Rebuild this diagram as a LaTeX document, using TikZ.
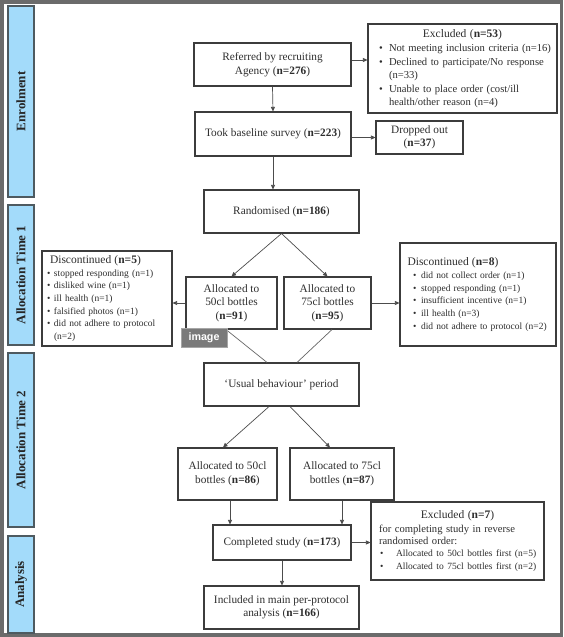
\documentclass[tikz,border=0pt]{standalone}
\usepackage{fontspec}
\setmainfont{Liberation Serif}
\newfontfamily\badgefont{Liberation Sans}
\usetikzlibrary{arrows.meta,calc}
\definecolor{frame}{HTML}{6B6B6B}
\definecolor{lblue}{HTML}{A3DBFA}
\definecolor{lborder}{HTML}{4E5A60}
\definecolor{boxline}{HTML}{3C3C3C}
\definecolor{txt}{HTML}{2E2E2E}
\newcommand{\bl}[1]{\makebox[#1][l]{\textbullet}}
\newcommand{\hd}[1]{\makebox[\hsize][c]{\fontsize{11.5}{13}\selectfont #1}}
\tikzset{
  mbox/.style={draw=boxline, line width=1.1pt, fill=white, align=center, inner sep=0pt,
    font=\fontsize{11.3}{13.5}\selectfont, text=txt},
  lbox/.style={draw=boxline, line width=1.1pt, fill=white, align=left, inner sep=0pt, text=txt},
  lane/.style={draw=lborder, line width=1.4pt, fill=lblue, inner sep=0pt, rotate=90,
    minimum height=26pt, font=\fontsize{13}{15}\selectfont\bfseries, text=black!85},
  arr/.style={draw=black!70, line width=0.7pt, -{Triangle[length=4.5pt,width=4pt]}},
  ln/.style={draw=black!60, line width=0.7pt},
}
\begin{document}
\begin{tikzpicture}[x=1pt,y=-1pt]
\useasboundingbox (0,0) rectangle (563,637);
\fill[frame] (0,0) rectangle (563,637);
\fill[white] (4,4) rectangle (560,633);

% lanes
\node[lane, minimum width=191pt] (enrol) at (21,101.5) {Enrolment};
\node[lane, minimum width=140pt] (at1) at (21,275) {Allocation Time 1};
\node[lane, minimum width=174pt] (at2) at (21,440) {Allocation Time 2};
\node[lane, minimum width=97pt] (anal) at (21,584.5) {Analysis};

% main boxes
\node[mbox, minimum width=157pt, minimum height=43pt] (ref) at (272.5,64.5) {Referred by recruiting\\Agency (\textbf{n=276})};
\node[mbox, minimum width=156pt, minimum height=44pt] (took) at (273,134) {Took baseline survey (\textbf{n=223})};
\node[mbox, minimum width=87pt, minimum height=33pt] (drop) at (419.5,137.5) {Dropped out\\(\textbf{n=37})};
\node[mbox, minimum width=155pt, minimum height=43pt] (rand) at (281.5,211.5) {Randomised (\textbf{n=186})};
\node[mbox, minimum width=91pt, minimum height=52pt] (alloc50) at (231.5,303) {Allocated to\\50cl bottles\\(\textbf{n=91})};
\node[mbox, minimum width=87pt, minimum height=52pt] (alloc75) at (327.5,303) {Allocated to\\75cl bottles\\(\textbf{n=95})};
\node[mbox, minimum width=155pt, minimum height=43pt] (usual) at (281.5,384.5) {‘Usual behaviour’ period};
\node[mbox, minimum width=99pt, minimum height=52pt] (alloc50b) at (227.5,474) {Allocated to 50cl\\bottles (\textbf{n=86})};
\node[mbox, minimum width=104pt, minimum height=52pt] (alloc75b) at (342,474) {Allocated to 75cl\\bottles (\textbf{n=87})};
\node[mbox, minimum width=138pt, minimum height=35pt] (compl) at (282,542.5) {Completed study (\textbf{n=173})};
\node[mbox, minimum width=155pt, minimum height=43pt] (incl) at (281.5,607.5) {Included in main per-protocol\\analysis (\textbf{n=166})};

% list boxes
\node[lbox, text width=189pt, minimum height=89pt, font=\fontsize{10.6}{13.5}\selectfont] (excl1) at (462.5,68.5) {%
\hd{Excluded (\textbf{n=53})}\\[1pt]
\hspace*{11pt}\bl{10pt}Not meeting inclusion criteria (n=16)\\
\hspace*{11pt}\bl{10pt}Declined to participate/No response\\
\hspace*{21pt}(n=33)\\
\hspace*{11pt}\bl{10pt}Unable to place order (cost/ill\\
\hspace*{21pt}health/other reason (n=4)};

\node[lbox, text width=130pt, minimum height=95pt, font=\fontsize{9.5}{12.6}\selectfont] (disc5) at (107,298.5) {%
\hspace*{8pt}{\fontsize{11.5}{12.6}\selectfont Discontinued (\textbf{n=5})}\\
\hspace*{5pt}\bl{7pt}stopped responding (n=1)\\
\hspace*{5pt}\bl{7pt}disliked wine (n=1)\\
\hspace*{5pt}\bl{7pt}ill health (n=1)\\
\hspace*{5pt}\bl{7pt}falsified photos (n=1)\\
\hspace*{5pt}\bl{7pt}did not adhere to protocol\\
\hspace*{12pt}(n=2)};

\node[lbox, text width=156pt, minimum height=103pt, font=\fontsize{9.5}{12.8}\selectfont] (disc8) at (478,294.5) {%
\hspace*{7.5pt}{\fontsize{11.5}{12.8}\selectfont Discontinued (\textbf{n=8})}\\
\hspace*{13pt}\bl{8pt}did not collect order (n=1)\\
\hspace*{13pt}\bl{8pt}stopped responding (n=1)\\
\hspace*{13pt}\bl{8pt}insufficient incentive (n=1)\\
\hspace*{13pt}\bl{8pt}ill health (n=3)\\
\hspace*{13pt}\bl{8pt}did not adhere to protocol (n=2)};

\node[lbox, text width=173pt, minimum height=78pt, font=\fontsize{10.6}{12.4}\selectfont] (excl7) at (457.5,541) {%
\hd{Excluded (\textbf{n=7})}\\[1pt]
\hspace*{8pt}for completing study in reverse\\
\hspace*{8pt}randomised order:\\
\hspace*{9pt}{\fontsize{9.5}{12.4}\selectfont\bl{16pt}Allocated to 50cl bottles first (n=5)}\\
\hspace*{9pt}{\fontsize{9.5}{12.4}\selectfont\bl{16pt}Allocated to 75cl bottles first (n=2)}};

% connectors
\draw[arr] (ref.south) -- (took.north);
\draw[arr] ([yshift=4.5pt]ref.east) -- ([yshift=4.5pt]ref.east -| excl1.west);
\draw[arr] (took.east |- drop.west) -- (drop.west);
\draw[arr] (took.south) -- (took.south |- rand.north);
\draw[arr] (rand.south) -- (alloc50.north);
\draw[arr] (rand.south) -- (alloc75.north);
\draw[arr] (alloc50.west) -- (disc5.east |- alloc50.west);
\draw[arr] (alloc75.east) -- (disc8.west |- alloc75.east);
\draw[ln] ([xshift=-5.5pt]alloc50.south) -- ([xshift=-14.5pt]usual.north);
\draw[ln] ([xshift=4.5pt]alloc75.south) -- ([xshift=15.5pt]usual.north);
\draw[arr] ([xshift=-12.5pt]usual.south) -- ([xshift=-4.5pt]alloc50b.north);
\draw[arr] ([xshift=8.5pt]usual.south) -- ([xshift=-12pt]alloc75b.north);
\draw[arr] ([xshift=2.5pt]alloc50b.south) -- ([xshift=2.5pt]alloc50b.south |- compl.north);
\draw[arr] (alloc75b.south) -- (alloc75b.south |- compl.north);
\draw[arr] (compl.east) -- (compl.east -| excl7.west);
\draw[arr] (compl.south) -- (compl.south |- incl.north);

% overlay badge
\node[fill=black!52, draw=black!35, line width=0.6pt, text=white, inner sep=0pt,
  minimum width=46pt, minimum height=19pt, font=\badgefont\fontsize{10.7}{12}\selectfont\bfseries] (badge) at (204,337.5) {image};
\end{tikzpicture}
\end{document}
